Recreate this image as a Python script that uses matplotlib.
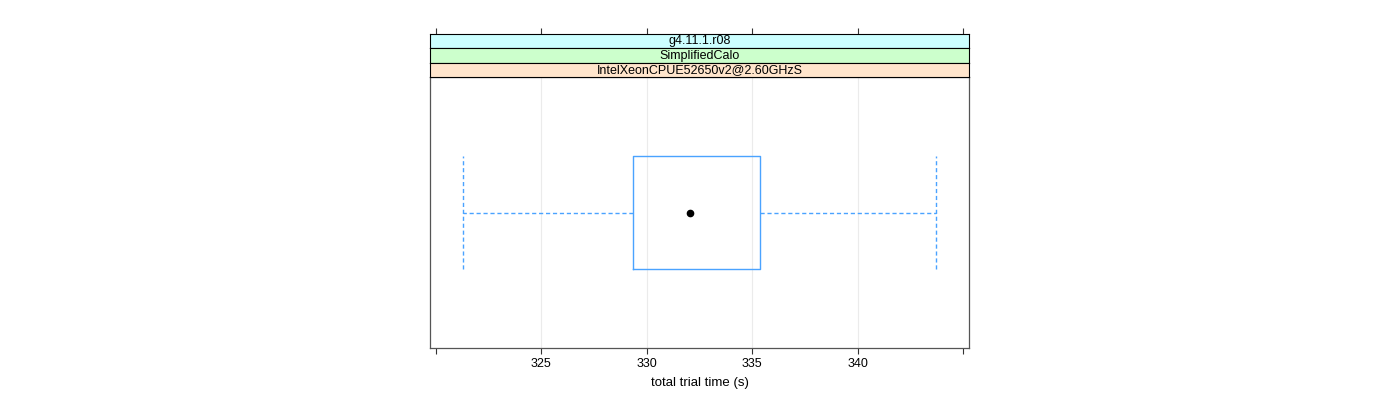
import matplotlib
matplotlib.use("Agg")
import matplotlib.pyplot as plt

plt.rcParams['font.family'] = ['Liberation Sans', 'DejaVu Sans']

# data
strip_labels = ['g4.11.1.r08', 'SimplifiedCalo', 'IntelXeonCPUE52650v2@2.60GHzS']
strip_colors = ['#ccffff', '#ccffcc', '#ffe5cc']
whisker_low = 321.3
q1 = 329.35
median = 332.05
q3 = 335.35
whisker_high = 343.7
xticks_all = [320, 325, 330, 335, 340, 345]
xtick_labels = ['', '325', '330', '335', '340', '']

W, H = 1400, 400
fig = plt.figure(figsize=(14, 4), dpi=100)

left = 430 / W
width = 539 / W
panel_top, panel_bot = 77, 348
ax = fig.add_axes([left, 1 - panel_bot / H, width, (panel_bot - panel_top) / H])
xlim = (319.72, 345.28)

box_col = '#4aa3ff'
stats = [dict(med=median, q1=q1, q3=q3, whislo=whisker_low, whishi=whisker_high, fliers=[])]
ax.bxp(stats, positions=[1], widths=0.5, vert=False, showcaps=True, showfliers=False,
       boxprops=dict(color=box_col, linewidth=1.0),
       whiskerprops=dict(color=box_col, linestyle=(0, (3, 2)), linewidth=1.0),
       capprops=dict(color=box_col, linestyle=(0, (3, 2)), linewidth=1.0),
       capwidths=0.5,
       medianprops=dict(linewidth=0))
ax.plot([median], [1], 'o', color='black', markersize=4.5, zorder=5)

ax.set_xlim(*xlim)
ax.set_ylim(0.4, 1.6)
ax.set_xticks(xticks_all)
ax.set_xticklabels(xtick_labels, fontsize=9)
ax.set_yticks([])
ax.tick_params(axis='x', direction='out', length=4, width=0.8, color='#333333', pad=3)
for x in xticks_all[1:-1]:
    ax.axvline(x, color='#ebebeb', linewidth=0.8, zorder=0)
for s in ax.spines.values():
    s.set_color('#555555')
    s.set_linewidth(0.9)
ax.set_xlabel('total trial time (s)', fontsize=9.5, labelpad=5)

# strips above the panel
strip_h = (panel_top - 34) / 3
for i, (lab, col) in enumerate(zip(strip_labels, strip_colors)):
    top_px = 34 + i * strip_h
    sax = fig.add_axes([left, 1 - (top_px + strip_h) / H, width, strip_h / H])
    sax.set_facecolor(col)
    sax.set_xlim(*xlim)
    sax.set_ylim(0, 1)
    sax.set_yticks([])
    sax.set_xticks(xticks_all)
    sax.set_xticklabels([])
    if i == 0:
        sax.tick_params(axis='x', top=True, bottom=False, direction='out', length=4,
                        width=0.8, color='#333333', labeltop=False, labelbottom=False)
    else:
        sax.tick_params(axis='x', top=False, bottom=False, labelbottom=False)
    for s in sax.spines.values():
        s.set_color('black')
        s.set_linewidth(0.8)
    sax.text(0.5, 0.5, lab, transform=sax.transAxes, ha='center', va='center', fontsize=9)

fig.savefig('out.png', dpi=100)
